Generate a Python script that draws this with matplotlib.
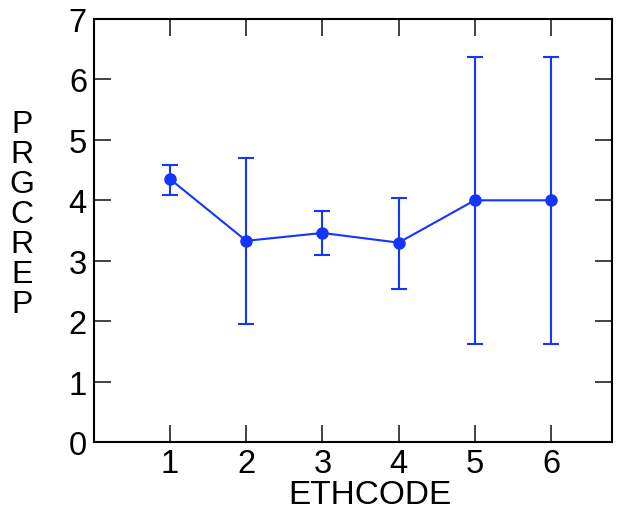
import matplotlib
matplotlib.use("Agg")
import matplotlib.pyplot as plt

plt.rcParams['font.family'] = ['Liberation Sans', 'DejaVu Sans']

# data
ethcode = [1, 2, 3, 4, 5, 6]
mean = [4.35, 3.33, 3.46, 3.30, 4.0, 4.0]
upper = [4.59, 4.70, 3.82, 4.04, 6.37, 6.37]
lower = [4.09, 1.95, 3.10, 2.54, 1.62, 1.62]

err_lo = [m - l for m, l in zip(mean, lower)]
err_hi = [u - m for m, u in zip(mean, upper)]

blue = '#1434ff'

fig = plt.figure(figsize=(6.18, 5.10), dpi=100)
ax = fig.add_axes([0.152, 0.131, 0.838, 0.830])

ax.errorbar(ethcode, mean, yerr=[err_lo, err_hi], color=blue, lw=1.5,
            marker='o', ms=8, capsize=5.5, capthick=1.5, elinewidth=1.5)

ax.set_xlim(0, 6.8)
ax.set_ylim(0, 7)
ax.set_xticks(ethcode)
ax.set_yticks(range(0, 8))

for s in ax.spines.values():
    s.set_linewidth(1.5)
ax.tick_params(direction='in', length=12, width=1.3, color='#333333',
               top=True, right=True, labelsize=23.5, pad=4)
ax.tick_params(axis='y', pad=5)

ax.set_xlabel('ETHCODE', fontsize=24)
ax.xaxis.set_label_coords(0.533, -0.088)

fig.text(0.036, 0.578, '\n'.join('PRGCREP'), fontsize=23, ha='center',
         va='center', linespacing=1.0)

fig.savefig('out.png', dpi=100)
